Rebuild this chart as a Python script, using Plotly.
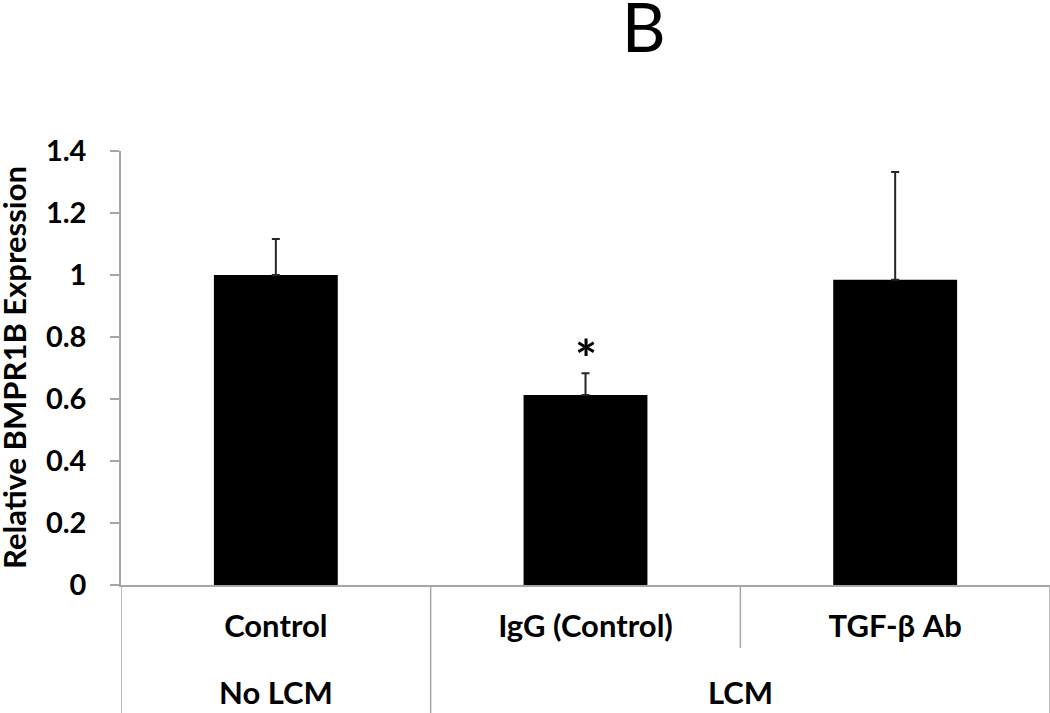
import plotly.graph_objects as go

categories = ["Control", "IgG (Control)", "TGF-β Ab"]
groups = ["No LCM", "LCM", "LCM"]
values = [1.0, 0.613, 0.985]
errors_plus = [0.116, 0.070, 0.347]
y_ticks = [0, 0.2, 0.4, 0.6, 0.8, 1.0, 1.2, 1.4]
y_tick_labels = ["0", "0.2", "0.4", "0.6", "0.8", "1", "1.2", "1.4"]
significance = ["", "*", ""]
y_title = "Relative BMPR1B Expression"

FONT = "Lato"
GRAY = "#a6a6a6"

fig = go.Figure()
fig.add_trace(go.Bar(
    x=categories, y=values, width=0.4,
    marker=dict(color="black", line=dict(width=0)),
    error_y=dict(type="data", array=errors_plus, arrayminus=[0] * len(values),
                 symmetric=False, color="#262626", thickness=2, width=4),
    showlegend=False,
))

# significance markers
for i, s in enumerate(significance):
    if s:
        fig.add_annotation(x=categories[i], y=values[i] + errors_plus[i], text=s,
                           showarrow=False, yanchor="bottom", yshift=-18,
                           font=dict(family=FONT, size=52, color="black", weight="bold"))

# group labels
unique_groups = []
for g in groups:
    if g not in unique_groups:
        unique_groups.append(g)
for g in unique_groups:
    idx = [i for i, gg in enumerate(groups) if gg == g]
    center = sum(idx) / len(idx)
    fig.add_annotation(x=center, y=0, xref="x", yref="y", text="<b>%s</b>" % g,
                       showarrow=False, yanchor="middle", yshift=-107,
                       font=dict(family=FONT, size=31, color="black"))

# y-axis title
fig.add_annotation(x=0, y=0.5, xref="paper", yref="paper", text="<b>%s</b>" % y_title,
                   textangle=-90, showarrow=False, xanchor="center", yanchor="middle",
                   xshift=-107, font=dict(family=FONT, size=31, color="black"))

# divider lines below axis
n = len(categories)
for k in range(n + 1):
    pos = k - 0.5
    full = k == 0 or k == n or groups[k - 1] != groups[k]
    fig.add_shape(type="line", xref="x", yref="paper", x0=pos, x1=pos,
                  y0=0, y1=-0.31 if full else -0.145,
                  line=dict(color=GRAY, width=1.5))

fig.update_layout(
    width=1050, height=713,
    margin=dict(l=121, r=0, t=151, b=128, autoexpand=False),
    paper_bgcolor="white", plot_bgcolor="white",
    title=dict(text="B", xref="container", x=0.613, xanchor="center",
               yref="container", y=0.994, yanchor="top", pad=dict(t=0),
               font=dict(family=FONT, size=68, color="black")),
    xaxis=dict(type="category", range=[-0.5, 2.5], showline=True, linecolor=GRAY,
               linewidth=1.5, ticks="", showgrid=False, automargin=False,
               tickfont=dict(family=FONT, size=31, color="black", weight="bold"),
               ticklabelstandoff=13),
    yaxis=dict(range=[0, 1.4], tickvals=y_ticks, ticktext=y_tick_labels,
               showline=True, linecolor=GRAY, linewidth=1.5, ticks="outside",
               ticklen=9, tickcolor=GRAY, tickwidth=1.5, showgrid=False, zeroline=False,
               automargin=False,
               tickfont=dict(family=FONT, size=29, color="black", weight="bold"),
               ticklabelstandoff=18),
)

fig.write_html("out.html", config={"displayModeBar": False},
               post_script="document.body.style.margin='0';")
